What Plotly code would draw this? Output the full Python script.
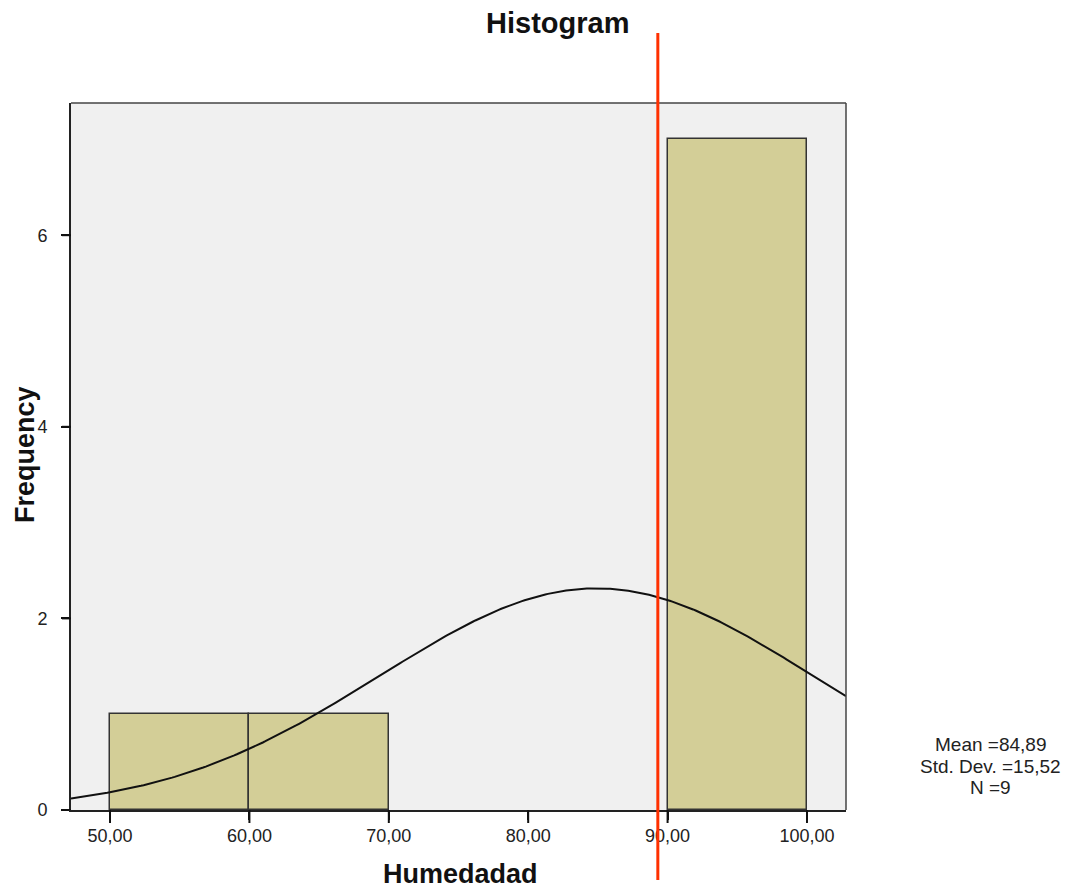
import numpy as np
import plotly.graph_objects as go

# ---- data ----
bin_starts = [50, 60, 70, 80, 90]
bin_width = 10
counts = [1, 1, 0, 0, 7]
mean_val = 84.89
std_val = 15.52
n_obs = 9
reference_value = 89.3
x_tick_vals = [50, 60, 70, 80, 90, 100]
x_tick_text = ["50,00", "60,00", "70,00", "80,00", "90,00", "100,00"]
y_tick_vals = [0, 2, 4, 6]
x_range = [47.2, 102.8]
y_range = [0, 7.38]

FONT = "Liberation Sans, Arial, sans-serif"
PLOT_W, PLOT_H = 775, 707

fig = go.Figure()

# bars (only non-empty bins are drawn)
bx = [s + bin_width / 2 for s, c in zip(bin_starts, counts) if c > 0]
by = [c for c in counts if c > 0]
fig.add_trace(go.Bar(
    x=bx, y=by, width=bin_width,
    marker=dict(color="#D3CE97", line=dict(color="#333333", width=1.5)),
    hoverinfo="skip", showlegend=False,
))

# normal curve from stated mean / sd / N
xc = np.linspace(x_range[0], x_range[1], 300)
yc = n_obs * bin_width / (std_val * np.sqrt(2 * np.pi)) * np.exp(-0.5 * ((xc - mean_val) / std_val) ** 2)
fig.add_trace(go.Scatter(
    x=xc, y=yc, mode="lines",
    line=dict(color="#111111", width=2),
    hoverinfo="skip", showlegend=False,
))

fig.update_layout(
    width=1070, height=890,
    margin=dict(l=63, r=232, t=95, b=88),
    paper_bgcolor="white",
    plot_bgcolor="#F0F0F0",
    bargap=0,
    font=dict(family=FONT, color="#222222"),
    showlegend=False,
)

fig.update_xaxes(
    range=x_range, tickvals=x_tick_vals, ticktext=x_tick_text,
    ticks="outside", ticklen=8, tickwidth=2, tickcolor="#111111",
    tickfont=dict(size=18, family=FONT, color="#222222"),
    showgrid=False, zeroline=False,
    showline=True, linecolor="#222222", linewidth=2, mirror=False,
)
fig.update_yaxes(
    range=y_range, tickvals=y_tick_vals,
    ticks="outside", ticklen=8, tickwidth=2, tickcolor="#111111",
    ticklabelstandoff=10,
    tickfont=dict(size=18, family=FONT, color="#222222"),
    showgrid=False, zeroline=False,
    showline=True, linecolor="#222222", linewidth=2, mirror=False,
)

# explicit tick marks at the tick values
for v in x_tick_vals:
    fig.add_shape(type="line", xref="x", yref="paper", x0=v, x1=v,
                  y0=0, y1=-13 / PLOT_H, line=dict(color="#111111", width=2))
for v in y_tick_vals:
    fig.add_shape(type="line", xref="paper", yref="y", x0=-9 / PLOT_W, x1=0,
                  y0=v, y1=v, line=dict(color="#111111", width=2))

# frame top/right
fig.add_shape(type="line", xref="paper", yref="paper", x0=0, x1=1, y0=1, y1=1,
              line=dict(color="#444444", width=1.5))
fig.add_shape(type="line", xref="paper", yref="paper", x0=1, x1=1, y0=0, y1=1,
              line=dict(color="#444444", width=1.5))

# red reference line extending beyond the plot
fig.add_shape(type="line", xref="x", yref="paper",
              x0=reference_value, x1=reference_value, y0=-0.099, y1=1.099,
              line=dict(color="#FF3000", width=3), layer="above")

# titles
fig.add_annotation(text="<b>Histogram</b>", xref="paper", yref="paper",
                   x=(557 - 71) / PLOT_W, y=(810 - 23) / PLOT_H, showarrow=False,
                   xanchor="center", yanchor="middle",
                   font=dict(size=29, family=FONT, color="#111111"))
fig.add_annotation(text="<b>Humedadad</b>", xref="paper", yref="paper",
                   x=(460 - 71) / PLOT_W, y=(810 - 874) / PLOT_H, showarrow=False,
                   xanchor="center", yanchor="middle",
                   font=dict(size=27, family=FONT, color="#111111"))
fig.add_annotation(text="<b>Frequency</b>", xref="paper", yref="paper",
                   x=(25 - 71) / PLOT_W, y=(810 - 455) / PLOT_H, showarrow=False, textangle=-90,
                   xanchor="center", yanchor="middle",
                   font=dict(size=27, family=FONT, color="#111111"))

def fmt(v):
    return f"{v:.2f}".replace(".", ",")

stats_lines = [f"Mean ={fmt(mean_val)}",
               f"Std. Dev. ={fmt(std_val)}",
               f"N ={n_obs}"]
for txt, ypx in zip(stats_lines, [744, 766, 787]):
    fig.add_annotation(text=txt, xref="paper", yref="paper",
                       x=(990 - 71) / PLOT_W, y=(810 - ypx) / PLOT_H, showarrow=False,
                       xanchor="center", yanchor="middle",
                       font=dict(size=19, family=FONT, color="#222222"))

fig.write_html("out.html")
